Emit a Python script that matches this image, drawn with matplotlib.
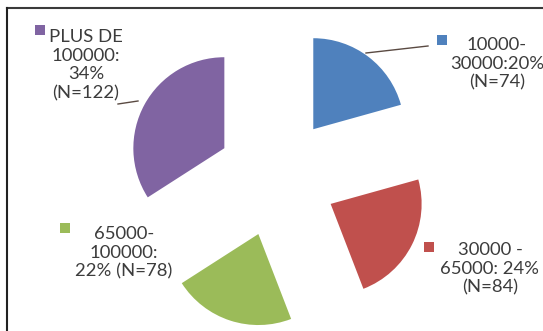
import matplotlib
matplotlib.use("Agg")
import matplotlib.pyplot as plt
from matplotlib.lines import Line2D

# Income brackets and respondent counts
categories = ["10000-\n30000:20%\n(N=74)",
              "30000 -\n65000: 24%\n(N=84)",
              "65000-\n100000:\n22% (N=78)",
              "PLUS DE\n100000:\n34%\n(N=122)"]
counts = [74, 84, 78, 122]
colors = ["#4F81BD", "#C0504D", "#9BBB59", "#8064A2"]

W, H = 543, 331
fig = plt.figure(figsize=(W / 100, H / 100), dpi=100)
fig.patch.set_facecolor("white")
ax = fig.add_axes([0, 0, 1, 1])


def px(x, y):
    """Pixel position (origin top-left) to data coordinates."""
    return x, H - y


# explode is given in data units here (radius is 91)
ax.pie(counts, colors=colors, startangle=90, counterclock=False,
       center=px(277, 177), radius=91, explode=[60] * 4, frame=True,
       wedgeprops=dict(linewidth=0))

ax.set_xlim(0, W)
ax.set_ylim(0, H)
ax.set_aspect("equal")
ax.axis("off")

txt_color = "#3c3c3c"
font = dict(family="Lato", size=13.3, color=txt_color)

# label blocks: text centre and legend key position
label_pos = [(497, 64), (490, 269), (124, 253), (86, 65)]
key_pos = [(442, 40), (429, 247), (65, 228), (40, 30)]

for lab, (tx, ty), (kx, ky), c in zip(categories, label_pos, key_pos, colors):
    ax.text(*px(tx, ty), lab, ha="center", va="center",
            multialignment="center", linespacing=1.2, **font)
    ax.plot(*px(kx, ky), marker="s", markersize=7.5, color=c,
            markeredgewidth=0)

# leader lines
for (x0, y0), (x1, y1) in [((366, 53), (428, 46)), ((118, 104), (138, 101))]:
    ax.plot([x0, x1], [H - y0, H - y1], color="#5a4a42", linewidth=1.0)

# frame: top and left borders
fig.add_artist(Line2D([6.5 / W, 1], [1 - 8 / H, 1 - 8 / H],
                      transform=fig.transFigure, color="#3a3a3a", linewidth=1.5))
fig.add_artist(Line2D([6.5 / W, 6.5 / W], [0, 1 - 8 / H],
                      transform=fig.transFigure, color="#222222", linewidth=1.5))

fig.savefig("out.png", dpi=100, facecolor="white")
